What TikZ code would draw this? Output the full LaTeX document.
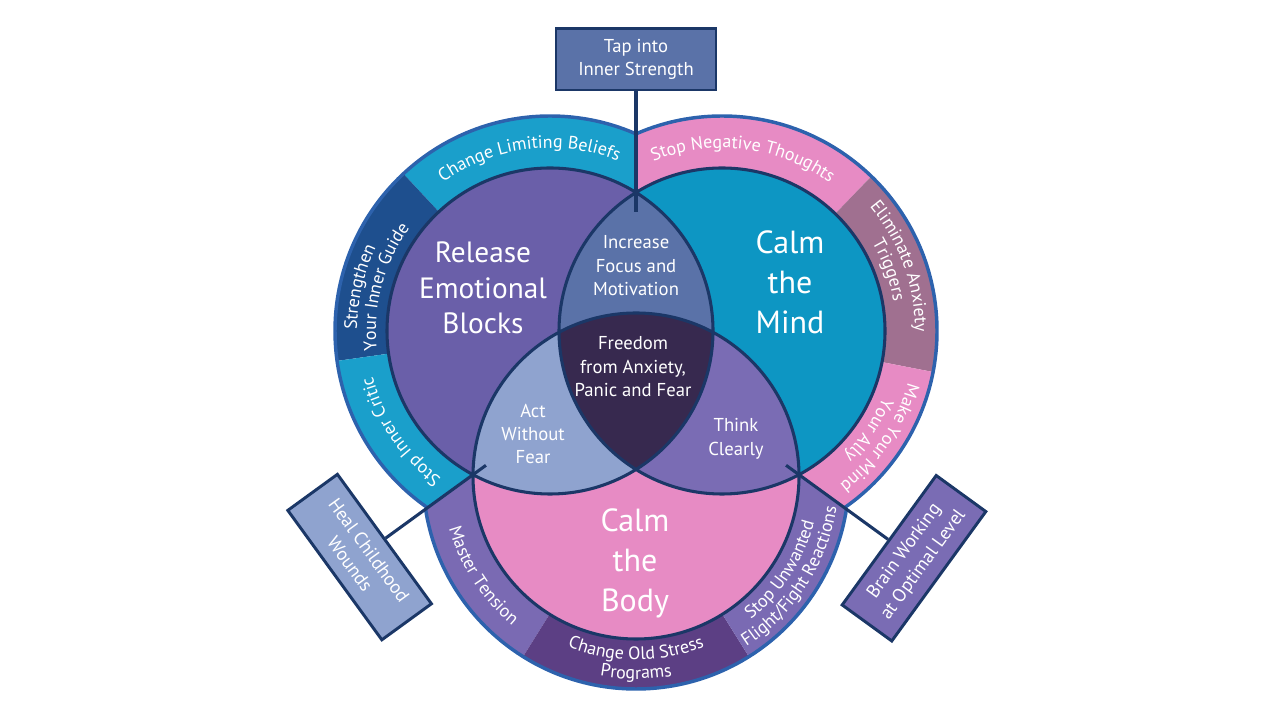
\documentclass[tikz,border=0pt]{standalone}
\usepackage{fontspec}
\setmainfont{PT Sans}
\usetikzlibrary{calc,decorations.text}
\definecolor{navyline}{HTML}{1B3767}
\definecolor{ringblue}{HTML}{2D62AD}
\definecolor{mindteal}{HTML}{0D96C3}
\definecolor{ringteal}{HTML}{1A9FCB}
\definecolor{guideblue}{HTML}{1E4F8E}
\definecolor{releasepurple}{HTML}{6A5FA9}
\definecolor{bodypink}{HTML}{E78BC4}
\definecolor{triggermauve}{HTML}{A07090}
\definecolor{tensionpurple}{HTML}{7A6AB3}
\definecolor{stresspurple}{HTML}{5C3F84}
\definecolor{focuslens}{HTML}{5A72A8}
\definecolor{actlens}{HTML}{8FA3CF}
\definecolor{thinklens}{HTML}{7A6CB4}
\definecolor{corepurple}{HTML}{37294F}

\newcommand{\ringfont}{\fontsize{13.5}{16}\selectfont}
\newcommand{\tagfont}{\fontsize{14}{17.5}\selectfont}
\newcommand{\lensfont}{\fontsize{14}{17.6}\selectfont}
\newcommand{\blockfont}{\fontsize{22}{26.6}\selectfont}
\newcommand{\calmfont}{\fontsize{24}{30}\selectfont}

\begin{document}
\begin{tikzpicture}[x=0.75pt,y=0.75pt,
  rim/.style={draw=navyline,line width=2.3pt},
  ringedge/.style={draw=ringblue,line width=2.6pt},
  link/.style={draw=navyline,line width=2.3pt},
  infobox/.style={draw=navyline,line width=2.2pt,text=white,align=center,
    minimum width=120pt,minimum height=46pt,inner sep=2pt,font=\tagfont},
  blocktext/.style={text=white,align=center,font=\blockfont},
  calmtext/.style={text=white,align=center,font=\calmfont},
  lenstext/.style={text=white,align=center,font=\lensfont},
  ringlabel/.style={decorate,decoration={text along path,text align=center,
    text color=white,text={|\ringfont|#1}}}]
\useasboundingbox (0,0) rectangle (1280,720);

% centres of the three circles and where they meet
\coordinate (L) at (550,389);
\coordinate (R) at (722,389);
\coordinate (B) at (636,244);
\coordinate (pLR) at (636,527.5);
\coordinate (pLB) at (473,245.3);
\coordinate (pRB) at (799,245.3);
\coordinate (hub) at (636,363.7);

% outer ring of the left circle
\begin{scope}
\clip (hub) -- ($(pLB)+(216:400)$) -- (-100,10) -- (-100,800) -- (636,800) -- cycle;
\fill[fill=ringteal] (L) -- ($(L)+(55:215)$) arc[start angle=55,end angle=133,radius=215] -- cycle;
\fill[fill=guideblue] (L) -- ($(L)+(133:215)$) arc[start angle=133,end angle=188,radius=215] -- cycle;
\fill[fill=ringteal] (L) -- ($(L)+(188:215)$) arc[start angle=188,end angle=260,radius=215] -- cycle;
\draw[ringedge] (L) circle[radius=215];
\end{scope}

% outer ring of the right circle
\begin{scope}
\clip (hub) -- ($(pRB)+(-36:400)$) -- (1400,10) -- (1400,800) -- (636,800) -- cycle;
\fill[fill=bodypink] (R) -- ($(R)+(46:215)$) arc[start angle=46,end angle=125,radius=215] -- cycle;
\fill[fill=triggermauve] (R) -- ($(R)+(-11:215)$) arc[start angle=-11,end angle=46,radius=215] -- cycle;
\fill[fill=bodypink] (R) -- ($(R)+(-80:215)$) arc[start angle=-80,end angle=-11,radius=215] -- cycle;
\draw[ringedge] (R) circle[radius=215];
\end{scope}

% outer ring of the bottom circle
\begin{scope}
\clip (hub) -- ($(pLB)+(216:400)$) -- (149,-100) -- (1123,-100) -- ($(pRB)+(-36:400)$) -- cycle;
\fill[fill=tensionpurple] (B) -- ($(B)+(160:213)$) arc[start angle=160,end angle=238,radius=213] -- cycle;
\fill[fill=stresspurple] (B) -- ($(B)+(238:213)$) arc[start angle=238,end angle=302,radius=213] -- cycle;
\fill[fill=tensionpurple] (B) -- ($(B)+(302:213)$) arc[start angle=302,end angle=380,radius=213] -- cycle;
\draw[ringedge] (B) circle[radius=213];
\end{scope}

% the three circles and their overlaps
\fill[fill=releasepurple] (L) circle[radius=163];
\fill[fill=mindteal] (R) circle[radius=163];
\fill[fill=bodypink] (B) circle[radius=163];
\begin{scope}
\clip (L) circle[radius=163];
\fill[fill=focuslens] (R) circle[radius=163];
\fill[fill=actlens] (B) circle[radius=163];
\end{scope}
\begin{scope}
\clip (R) circle[radius=163];
\fill[fill=thinklens] (B) circle[radius=163];
\end{scope}
\begin{scope}
\clip (L) circle[radius=163];
\clip (R) circle[radius=163];
\fill[fill=corepurple] (B) circle[radius=163];
\end{scope}
\draw[rim] (L) circle[radius=163] (R) circle[radius=163] (B) circle[radius=163];

% boxes and their links
\node[infobox,fill=focuslens,anchor=south] (tap) at ($(pLR)+(0,101)$) {Tap into\\Inner Strength};
\node[infobox,fill=actlens,rotate=-54,anchor=north] (heal) at ($(pLB)+(216:108)$) {Heal Childhood\\Wounds};
\node[infobox,fill=thinklens,rotate=54,anchor=north] (brain) at ($(pRB)+(-36:110)$) {Brain Working\\at Optimal Level};
\draw[link] (tap.south) -- ($(pLR)+(0,-20)$);
\draw[link] (heal.north) -- ($(pLB)+(36:16)$);
\draw[link] (brain.north) -- ($(pRB)+(144:16)$);

% circle labels
\node[blocktext] (release) at (483,432) {Release\\Emotional\\Blocks};
\node[calmtext] (mind) at (790,438) {Calm\\the\\Mind};
\node[calmtext] (body) at (635,157) {Calm\\the\\Body};
\node[lenstext] (focus) at (636,454) {Increase\\Focus and\\Motivation};
\node[lenstext] (freedom) at (633,353) {Freedom\\from Anxiety,\\Panic and Fear};
\node[lenstext] (act) at (533,286) {Act\\Without\\Fear};
\node[lenstext] (think) at (736,281) {Think\\Clearly};

% ring labels
\path[ringlabel={Change Limiting Beliefs}] ($(L)+(142:183)$) arc[start angle=142,end angle=52,radius=183];
\path[ringlabel={Strengthen}] ($(L)+(212:193)$) arc[start angle=212,end angle=122,radius=193];
\path[ringlabel={Your Inner Guide}] ($(L)+(210:174)$) arc[start angle=210,end angle=120,radius=174];
\path[ringlabel={Stop Inner Critic}] ($(L)+(259:183)$) arc[start angle=259,end angle=169,radius=183];
\path[ringlabel={Stop Negative Thoughts}] ($(R)+(128:183)$) arc[start angle=128,end angle=38,radius=183];
\path[ringlabel={Eliminate Anxiety}] ($(R)+(65:193)$) arc[start angle=65,end angle=-25,radius=193];
\path[ringlabel={Triggers}] ($(R)+(65:174)$) arc[start angle=65,end angle=-25,radius=174];
\path[ringlabel={Make Your Mind}] ($(R)+(11:193)$) arc[start angle=11,end angle=-79,radius=193];
\path[ringlabel={Your Ally}] ($(R)+(11:174)$) arc[start angle=11,end angle=-79,radius=174];
\path[ringlabel={Master Tension}] ($(B)+(168:194)$) arc[start angle=168,end angle=258,radius=194];
\path[ringlabel={Change Old Stress}] ($(B)+(225:184)$) arc[start angle=225,end angle=315,radius=184];
\path[ringlabel={Programs}] ($(B)+(225:203)$) arc[start angle=225,end angle=315,radius=203];
\path[ringlabel={Stop Unwanted}] ($(B)+(282:184)$) arc[start angle=282,end angle=372,radius=184];
\path[ringlabel={Flight/Fight Reactions}] ($(B)+(282:203)$) arc[start angle=282,end angle=372,radius=203];
\end{tikzpicture}
\end{document}
